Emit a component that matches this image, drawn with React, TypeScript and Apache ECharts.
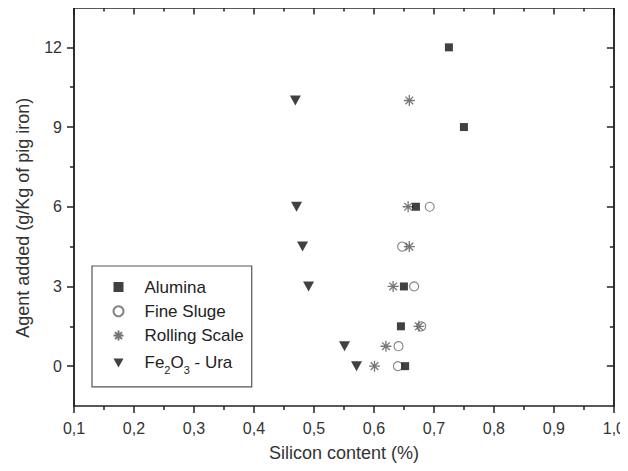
import React, { useEffect, useRef } from "react";
import * as echarts from "echarts";

const seriesNames = ["Alumina", "Fine Sluge", "Rolling Scale", "Fe2O3 - Ura"];

const aluminaX = [0.725, 0.75, 0.67, 0.65, 0.645, 0.652];
const aluminaY = [12, 9, 6, 3, 1.5, 0];

const fineX = [0.693, 0.647, 0.667, 0.679, 0.641, 0.64];
const fineY = [6, 4.5, 3, 1.5, 0.75, 0];

const rollingX = [0.659, 0.657, 0.659, 0.632, 0.675, 0.62, 0.601];
const rollingY = [10, 6, 4.5, 3, 1.5, 0.75, 0];

const feX = [0.469, 0.471, 0.481, 0.491, 0.551, 0.571];
const feY = [10, 6, 4.5, 3, 0.75, 0];

const yMajorTicks = [0, 3, 6, 9, 12];
const yMinorTicks = [1.5, 4.5, 7.5, 10.5];

const FONT = "'Liberation Sans', Arial, sans-serif";
const AXIS_COLOR = "#222";
const ASTERISK =
  "path://M5,0L5,10M0,5L10,5M1.5,1.5L8.5,8.5M1.5,8.5L8.5,1.5";
const DOWN_TRIANGLE = "path://M0,0L10,0L5,9Z";

function pairs(xs: number[], ys: number[]) {
  return xs.map((x, i) => [x, ys[i]]);
}

export default function App() {
  const ref = useRef<HTMLDivElement>(null);

  useEffect(() => {
    if (!ref.current) return;
    const chart = echarts.init(ref.current, undefined, { renderer: "svg" });

    const line = { color: AXIS_COLOR, width: 1.5 };
    const yBase = {
      type: "value" as const,
      min: -1.5,
      max: 13.5,
      splitLine: { show: false },
      axisLine: { show: true, lineStyle: line },
    };

    chart.setOption({
      animation: false,
      backgroundColor: "#fff",
      textStyle: { fontFamily: FONT },
      grid: { left: 74, right: 10, top: 7.5, bottom: 65, containLabel: false },
      legend: {
        orient: "vertical",
        left: 92,
        top: 266,
        data: [
          { name: seriesNames[0] },
          { name: seriesNames[1] },
          { name: seriesNames[2] },
          { name: seriesNames[3], icon: DOWN_TRIANGLE },
        ],
        itemWidth: 10,
        itemHeight: 10,
        itemGap: 4.3,
        padding: [11, 8, 11, 19],
        borderColor: "#555",
        borderWidth: 1.2,
        textStyle: {
          fontFamily: FONT,
          fontSize: 17,
          lineHeight: 20,
          color: "#222",
          padding: [0, 0, 0, 16],
          rich: {
            n: { fontFamily: FONT, fontSize: 17, lineHeight: 20, color: "#222" },
            s: {
              fontFamily: FONT,
              fontSize: 11,
              lineHeight: 12,
              padding: [15, 0, 0, 0],
              color: "#222",
            },
          },
        },
        formatter: (name: string) =>
          name === "Fe2O3 - Ura" ? "{n|Fe}{s|2}{n|O}{s|3}{n| - Ura}" : name,
      },
      xAxis: [
        {
          type: "value",
          position: "bottom",
          min: 0.1,
          max: 1.0,
          interval: 0.1,
          splitLine: { show: false },
          axisLine: { show: true, onZero: false, lineStyle: line },
          axisTick: { show: true, length: 7, lineStyle: line },
          minorTick: { show: true, splitNumber: 2, length: 4, lineStyle: line },
          axisLabel: {
            fontSize: 16,
            color: "#333",
            margin: 14,
            fontFamily: FONT,
            formatter: (v: number) => v.toFixed(1).replace(".", ","),
          },
          name: "Silicon content (%)",
          nameLocation: "middle",
          nameGap: 38,
          nameTextStyle: { fontSize: 18, color: "#333", fontFamily: FONT },
        },
        {
          type: "value",
          position: "top",
          min: 0.1,
          max: 1.0,
          interval: 0.1,
          splitLine: { show: false },
          axisLine: { show: true, onZero: false, lineStyle: line },
          axisTick: { show: true, inside: true, length: 7, lineStyle: line },
          minorTick: { show: true, splitNumber: 2, length: 4, lineStyle: line },
          axisLabel: { show: false },
        },
      ],
      yAxis: [
        {
          ...yBase,
          position: "left",
          axisTick: { show: true, length: 7, lineStyle: line, customValues: yMajorTicks },
          axisLabel: {
            fontSize: 16,
            color: "#333",
            margin: 12,
            fontFamily: FONT,
            customValues: yMajorTicks,
          },
          name: "Agent added (g/Kg of pig iron)",
          nameLocation: "middle",
          nameGap: 42,
          nameTextStyle: {
            fontSize: 18,
            color: "#333",
            fontFamily: FONT,
            padding: [0, 22, 0, 0],
          },
        },
        {
          ...yBase,
          position: "left",
          axisTick: { show: true, length: 4, lineStyle: line, customValues: yMinorTicks },
          axisLabel: { show: false },
        },
        {
          ...yBase,
          position: "right",
          axisTick: {
            show: true,
            inside: true,
            length: 7,
            lineStyle: line,
            customValues: yMajorTicks,
          },
          axisLabel: { show: false },
        },
        {
          ...yBase,
          position: "right",
          axisTick: {
            show: true,
            inside: true,
            length: 4,
            lineStyle: line,
            customValues: yMinorTicks,
          },
          axisLabel: { show: false },
        },
      ],
      series: [
        {
          name: "Alumina",
          type: "scatter",
          xAxisIndex: 0,
          yAxisIndex: 0,
          z: 5,
          symbol: "rect",
          symbolSize: 8,
          itemStyle: { color: "#111" },
          data: pairs(aluminaX, aluminaY),
        },
        {
          name: "Fine Sluge",
          type: "scatter",
          xAxisIndex: 0,
          yAxisIndex: 0,
          z: 3,
          symbol: "circle",
          symbolSize: 9,
          itemStyle: { color: "#fff", borderColor: "#666", borderWidth: 1.1 },
          data: pairs(fineX, fineY),
        },
        {
          name: "Rolling Scale",
          type: "scatter",
          xAxisIndex: 0,
          yAxisIndex: 0,
          z: 4,
          symbol: ASTERISK,
          symbolSize: 11,
          itemStyle: { color: "none", borderColor: "#555", borderWidth: 1.3 },
          data: pairs(rollingX, rollingY),
        },
        {
          name: "Fe2O3 - Ura",
          type: "scatter",
          xAxisIndex: 0,
          yAxisIndex: 0,
          z: 4,
          symbol: DOWN_TRIANGLE,
          symbolSize: [11, 10],
          itemStyle: { color: "#111" },
          data: pairs(feX, feY),
        },
      ],
    });

    return () => chart.dispose();
  }, []);

  return <div ref={ref} style={{ width: 628, height: 471, margin: -8 }} />;
}
